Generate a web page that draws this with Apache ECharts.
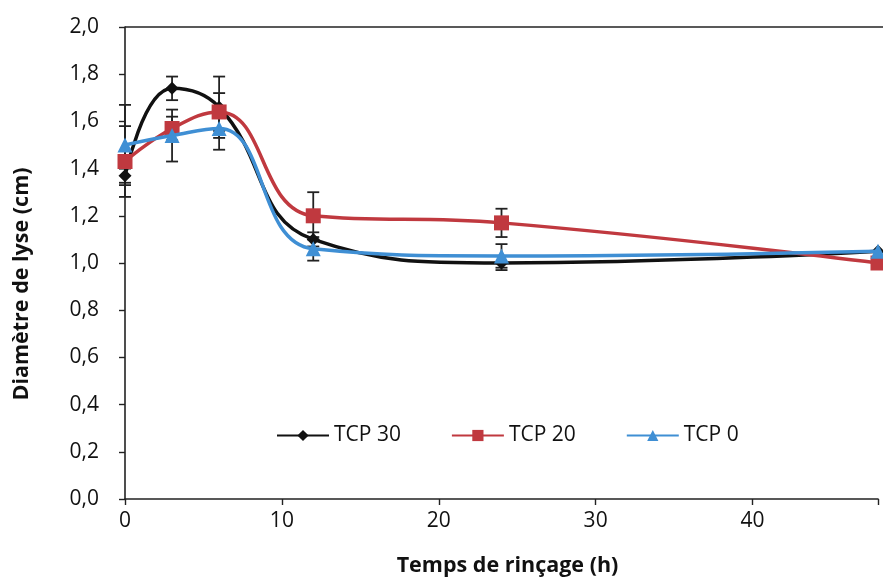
<!DOCTYPE html>
<html><head><meta charset="utf-8">
<script src="https://cdn.jsdelivr.net/npm/echarts@6/dist/echarts.min.js"></script>
<style>html,body{margin:0;padding:0;background:#fff;overflow:hidden}#c{width:883px;height:582px}</style>
</head><body><div id="c"></div>
<script>
var hours = [0, 3, 6, 12, 24, 48];
var yTicks = ['0,0','0,2','0,4','0,6','0,8','1,0','1,2','1,4','1,6','1,8','2,0'];
var tcp30 = [1.37, 1.74, 1.66, 1.10, 1.00, 1.05];
var tcp20 = [1.43, 1.57, 1.64, 1.20, 1.17, 1.00];
var tcp0  = [1.50, 1.54, 1.57, 1.06, 1.03, 1.05];
var err30 = [0.03, 0.05, 0.13, 0.03, 0.03, 0];
var err20 = [0.15, 0.05, 0.08, 0.10, 0.06, 0];
var err0  = [0.17, 0.11, 0.09, 0.05, 0.05, 0];
var yTitle = 'Diamètre de lyse (cm)';
var xTitle = 'Temps de rinçage (h)';

function pairs(v){ return hours.map(function(h,i){return [h, v[i]];}); }
function errData(v,e){ return hours.map(function(h,i){return [h, v[i]-e[i], v[i]+e[i]];}).filter(function(d,i){return e[i]>0;}); }
function errSeries(v,e){
  return {type:'custom', data: errData(v,e), z:1, silent:true,
    renderItem:function(params, api){
      var lo = api.coord([api.value(0), api.value(1)]);
      var hi = api.coord([api.value(0), api.value(2)]);
      var w = 6;
      var st = {stroke:'#222', lineWidth:1.8};
      return {type:'group', children:[
        {type:'line', shape:{x1:lo[0],y1:lo[1],x2:hi[0],y2:hi[1]}, style:st},
        {type:'line', shape:{x1:lo[0]-w,y1:lo[1],x2:lo[0]+w,y2:lo[1]}, style:st},
        {type:'line', shape:{x1:hi[0]-w,y1:hi[1],x2:hi[0]+w,y2:hi[1]}, style:st}
      ]};
    }};
}
var font = '"Open Sans", sans-serif';
var chart = echarts.init(document.getElementById('c'));
chart.setOption({
  animation:false,
  backgroundColor:'#fff',
  grid:{left:125, top:27, right:5, bottom:83, containLabel:false},
  legend:{data:['TCP 30','TCP 20','TCP 0'], left:271, top:420, itemGap:50, itemWidth:52, itemHeight:14,
    textStyle:{fontFamily:font, fontSize:21, color:'#111'}},
  xAxis:{type:'value', min:0, max:48, interval:10,
    name:xTitle, nameLocation:'middle', nameGap:56,
    nameTextStyle:{fontFamily:font, fontSize:21.5, fontWeight:'bold', color:'#111', padding:[0,0,0,12]},
    axisLine:{show:true, lineStyle:{color:'#222', width:1.6}},
    axisTick:{show:true, length:6, lineStyle:{color:'#222', width:1.4}},
    axisLabel:{fontFamily:font, fontSize:21, color:'#111', margin:12,
      formatter:function(v){return v===48?'':String(v);}},
    splitLine:{show:false}},
  yAxis:{type:'value', min:0, max:2, interval:0.2,
    axisLine:{show:true, lineStyle:{color:'#222', width:1.6}},
    axisTick:{show:true, length:6, lineStyle:{color:'#222', width:1.4}},
    axisLabel:{fontFamily:font, fontSize:21, color:'#111', margin:26,
      formatter:function(v){return yTicks[Math.round(v*5)];}},
    splitLine:{show:false}},
  graphic:[
    {type:'line', shape:{x1:125,y1:27,x2:883,y2:27}, style:{stroke:'#222', lineWidth:1.5}},
    {type:'text', x:22, y:284, rotation:Math.PI/2,
      style:{text:yTitle, fontFamily:font, fontSize:21.5, fontWeight:'bold', fill:'#111',
        align:'center', verticalAlign:'middle'}}
  ],
  series:[
    errSeries(tcp30, err30), errSeries(tcp20, err20), errSeries(tcp0, err0),
    {name:'TCP 30', type:'line', data:pairs(tcp30), smooth:0.45, symbol:'diamond', symbolSize:13,
      lineStyle:{color:'#111', width:3.5}, itemStyle:{color:'#111'}, z:3},
    {name:'TCP 20', type:'line', data:pairs(tcp20), smooth:0.45, symbol:'rect', symbolSize:15,
      lineStyle:{color:'#c0393f', width:3.5}, itemStyle:{color:'#c0393f'}, z:4},
    {name:'TCP 0', type:'line', data:pairs(tcp0), smooth:0.45, symbol:'triangle', symbolSize:15,
      lineStyle:{color:'#3f8fd4', width:3.5}, itemStyle:{color:'#3f8fd4'}, z:5}
  ]
});
</script></body></html>
